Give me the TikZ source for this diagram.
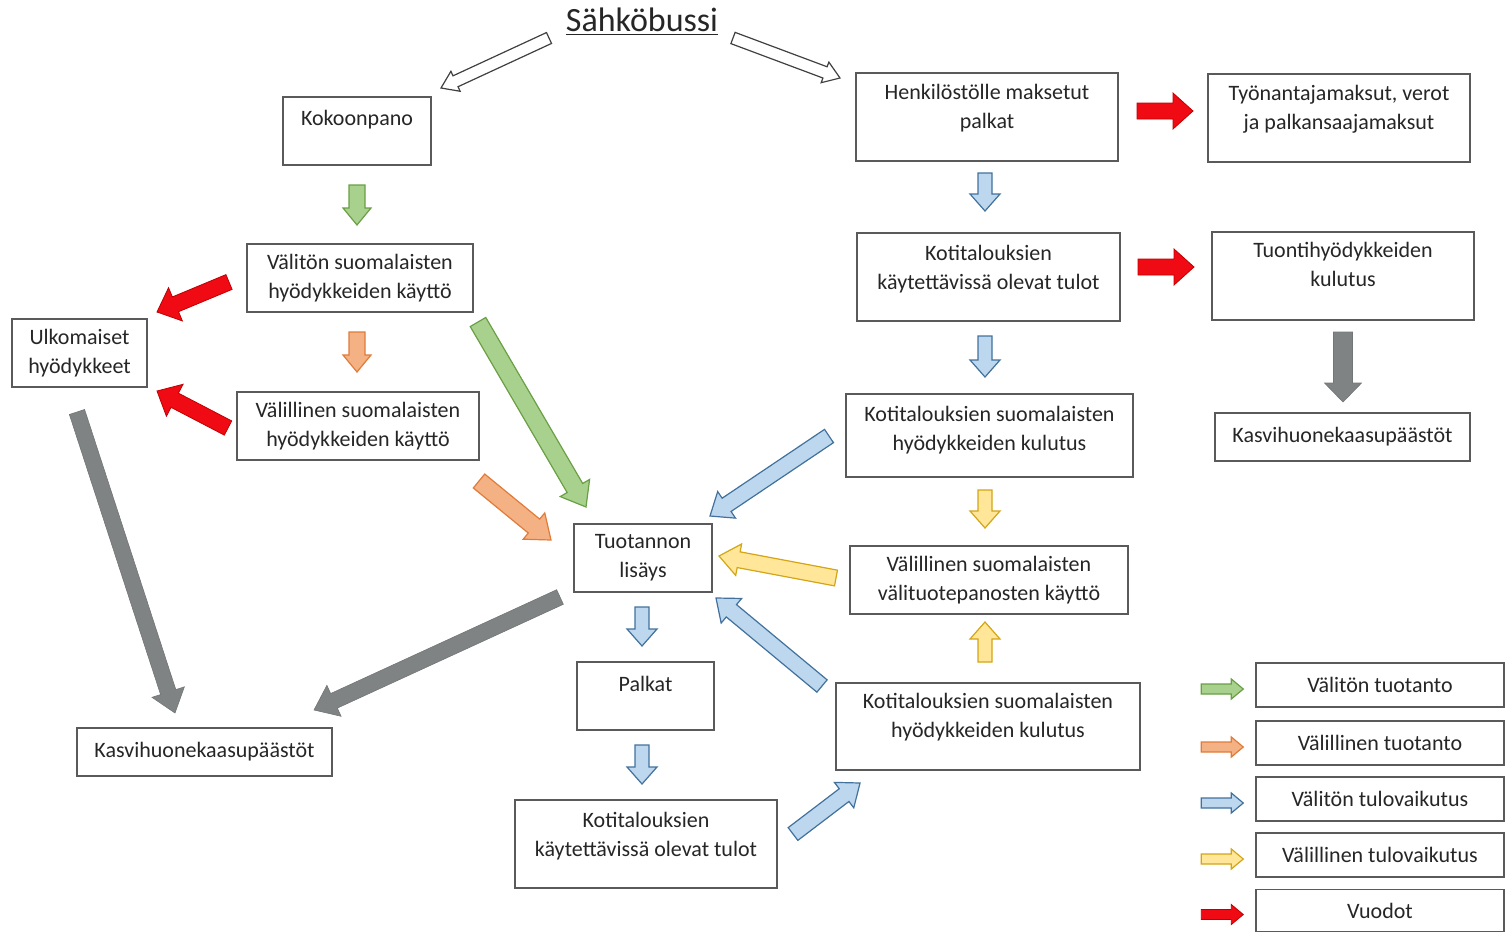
\documentclass[tikz,border=0pt]{standalone}
\usepackage{fontspec}
\setmainfont{Carlito}
\usetikzlibrary{calc}

\definecolor{boxgray}{HTML}{5A5A5A}
\definecolor{txtgray}{HTML}{262626}
\definecolor{grfill}{HTML}{A9D18E}
\definecolor{grdraw}{HTML}{6A9F45}
\definecolor{orfill}{HTML}{F4B183}
\definecolor{ordraw}{HTML}{E07B3A}
\definecolor{blfill}{HTML}{BDD7EE}
\definecolor{bldraw}{HTML}{41719C}
\definecolor{yefill}{HTML}{FFE699}
\definecolor{yedraw}{HTML}{D4A514}
\definecolor{refill}{HTML}{F00A14}
\definecolor{redraw}{HTML}{C00000}
\definecolor{kafill}{HTML}{7F8383}

% block arrow: style, from, to, shaft half width, head half width, head length
\newcommand\barrow[6]{%
  \coordinate (ba-c) at ($(#3)!#6!(#2)$);
  \draw[#1] ($(#2)!#4!90:(#3)$) -- ($(ba-c)!#4!90:(#3)$) -- ($(ba-c)!#5!90:(#3)$)
    -- (#3) -- ($(ba-c)!#5!-90:(#3)$) -- ($(ba-c)!#4!-90:(#3)$) -- ($(#2)!#4!-90:(#3)$) -- cycle;
}
% extra empty line, pushes the text up in its box
\newcommand\pad[1]{\\[#1]\mbox{}}

\tikzset{
  box/.style={draw=boxgray, line width=0.7pt, fill=white, align=center, inner sep=0pt,
    text=txtgray, font=\fontsize{11}{14.5}\selectfont},
  whitearr/.style={fill=white, draw=black!75, line width=0.6pt, line join=miter},
  greenarr/.style={fill=grfill, draw=grdraw, line width=0.6pt},
  orangearr/.style={fill=orfill, draw=ordraw, line width=0.6pt},
  bluearr/.style={fill=blfill, draw=bldraw, line width=0.6pt},
  yellowarr/.style={fill=yefill, draw=yedraw, line width=0.6pt},
  redarr/.style={fill=refill, draw=redraw, line width=0.4pt},
  greyarr/.style={fill=kafill, draw=kafill!90!black, line width=0.3pt},
}

\begin{document}
\begin{tikzpicture}[x=0.5pt, y=-0.5pt]
  \useasboundingbox (0,0) rectangle (1510,932);

  % Title
  \node[font=\fontsize{17}{20}\selectfont, text=txtgray] (bus) at (642,22) {\underline{Sähköbussi}};

  % Left column
  \node[box, minimum width=74pt, minimum height=34pt] (kok) at (357,131) {Kokoonpano\pad{-1pt}};
  \node[box, minimum width=113pt, minimum height=34pt] (vsuom) at (360,278) {Välitön suomalaisten\\hyödykkeiden käyttö};
  \node[box, minimum width=67.5pt, minimum height=34pt] (ulko) at (79.5,353) {Ulkomaiset\\hyödykkeet};
  \node[box, minimum width=121pt, minimum height=34pt] (vlsuom) at (358,426) {Välillinen suomalaisten\\hyödykkeiden käyttö};
  \node[box, minimum width=127.5pt, minimum height=24pt] (kasvi1) at (204.5,752) {Kasvihuonekaasupäästöt};

  % Middle column
  \node[box, minimum width=69pt, minimum height=34pt] (tuot) at (643,558) {Tuotannon\\lisäys};
  \node[box, minimum width=68.5pt, minimum height=34pt] (palkat) at (645.5,696) {Palkat\pad{-2pt}};
  \node[box, minimum width=131pt, minimum height=44pt] (tulot2) at (646,844) {Kotitalouksien\\käytettävissä olevat tulot\pad{-5pt}};

  % Right column
  \node[box, minimum width=131pt, minimum height=44pt] (henk) at (987,117) {Henkilöstölle maksetut\\palkat\pad{-4pt}};
  \node[box, minimum width=131.5pt, minimum height=44pt] (tulot1) at (988.5,277) {Kotitalouksien\\käytettävissä olevat tulot\pad{-5pt}};
  \node[box, minimum width=143.5pt, minimum height=41.5pt] (kulut1) at (989.5,435.5) {Kotitalouksien suomalaisten\\hyödykkeiden kulutus\pad{-7pt}};
  \node[box, minimum width=139pt, minimum height=34pt] (vlvali) at (989,580) {Välillinen suomalaisten\\välituotepanosten käyttö};
  \node[box, minimum width=152pt, minimum height=43.5pt] (kulut2) at (988,726.5) {Kotitalouksien suomalaisten\\hyödykkeiden kulutus\pad{-3pt}};

  % Far right
  \node[box, minimum width=131pt, minimum height=44pt] (tyon) at (1339,118) {Työnantajamaksut, verot\\ja palkansaajamaksut\pad{-4pt}};
  \node[box, minimum width=131pt, minimum height=44pt] (tuonti) at (1343,276) {Tuontihyödykkeiden\\kulutus\pad{-3pt}};
  \node[box, minimum width=127.5pt, minimum height=24pt] (kasvi2) at (1342.5,437) {Kasvihuonekaasupäästöt};

  % Legend
  \node[box, minimum width=124pt, minimum height=22pt] (leg1) at (1380,685) {Välitön tuotanto};
  \node[box, minimum width=124pt, minimum height=22pt] (leg2) at (1380,743) {Välillinen tuotanto};
  \node[box, minimum width=124pt, minimum height=22pt] (leg3) at (1380,799) {Välitön tulovaikutus};
  \node[box, minimum width=124pt, minimum height=22pt] (leg4) at (1380,855) {Välillinen tulovaikutus};
  \node[box, minimum width=124pt, minimum height=21pt] (leg5) at (1380,910.5) {Vuodot};

  % Arrow ends
  \coordinate (t1s) at (549,38);   \coordinate (t1e) at (441,88);
  \coordinate (t2s) at (733,38);   \coordinate (t2e) at (840,78);
  \coordinate (g1s) at (357,185);  \coordinate (g1e) at (357,225);
  \coordinate (g2s) at (478,322);  \coordinate (g2e) at (586,507);
  \coordinate (o1s) at (357,332);  \coordinate (o1e) at (357,372);
  \coordinate (o2s) at (479,481);  \coordinate (o2e) at (551,540);
  \coordinate (r1s) at (229,282);  \coordinate (r1e) at (157,312);
  \coordinate (r2s) at (228,428);  \coordinate (r2e) at (157,391);
  \coordinate (r3s) at (1137,111); \coordinate (r3e) at (1193,111);
  \coordinate (r4s) at (1138,267); \coordinate (r4e) at (1194,267);
  \coordinate (k1s) at (77,412);   \coordinate (k1e) at (175,713);
  \coordinate (k2s) at (560,597);  \coordinate (k2e) at (314,710);
  \coordinate (k3s) at (1343,332); \coordinate (k3e) at (1343,402);
  \coordinate (b1s) at (985,173);  \coordinate (b1e) at (985,211);
  \coordinate (b2s) at (985,336);  \coordinate (b2e) at (985,377);
  \coordinate (b3s) at (829,436);  \coordinate (b3e) at (710,516);
  \coordinate (b4s) at (822,686);  \coordinate (b4e) at (716,598);
  \coordinate (b5s) at (642,607);  \coordinate (b5e) at (642,646);
  \coordinate (b6s) at (642,745);  \coordinate (b6e) at (642,784);
  \coordinate (b7s) at (793,834);  \coordinate (b7e) at (860,783);
  \coordinate (y1s) at (985,490);  \coordinate (y1e) at (985,528);
  \coordinate (y2s) at (985,662);  \coordinate (y2e) at (985,622);
  \coordinate (y3s) at (836,578);  \coordinate (y3e) at (719,556);

  % From the bus
  \barrow{whitearr}{t1s}{t1e}{3pt}{5.5pt}{8pt}
  \barrow{whitearr}{t2s}{t2e}{3pt}{5.5pt}{8pt}
  % Production
  \barrow{greenarr}{g1s}{g1e}{4pt}{7pt}{8.5pt}
  \barrow{greenarr}{g2s}{g2e}{4.5pt}{8.5pt}{11pt}
  \barrow{orangearr}{o1s}{o1e}{4pt}{7pt}{8.5pt}
  \barrow{orangearr}{o2s}{o2e}{4.5pt}{8.5pt}{11pt}
  % Leaks
  \barrow{redarr}{r1s}{r1e}{4pt}{9pt}{10pt}
  \barrow{redarr}{r2s}{r2e}{4pt}{9pt}{10pt}
  \barrow{redarr}{r3s}{r3e}{4pt}{9pt}{10pt}
  \barrow{redarr}{r4s}{r4e}{4pt}{9pt}{10pt}
  % Emissions
  \barrow{greyarr}{k1s}{k1e}{4pt}{8.5pt}{11pt}
  \barrow{greyarr}{k2s}{k2e}{4pt}{8.5pt}{11pt}
  \barrow{greyarr}{k3s}{k3e}{4.75pt}{9.25pt}{9.5pt}
  % Income
  \barrow{bluearr}{b1s}{b1e}{3.5pt}{7.5pt}{8.5pt}
  \barrow{bluearr}{b2s}{b2e}{3.5pt}{7.5pt}{8.5pt}
  \barrow{bluearr}{b3s}{b3e}{4pt}{8pt}{10pt}
  \barrow{bluearr}{b4s}{b4e}{4pt}{8pt}{10pt}
  \barrow{bluearr}{b5s}{b5e}{3.5pt}{7.5pt}{8.5pt}
  \barrow{bluearr}{b6s}{b6e}{3.5pt}{7.5pt}{8.5pt}
  \barrow{bluearr}{b7s}{b7e}{4pt}{8pt}{10pt}
  \barrow{yellowarr}{y1s}{y1e}{3.5pt}{7.5pt}{8.5pt}
  \barrow{yellowarr}{y2s}{y2e}{3.5pt}{7.5pt}{8.5pt}
  \barrow{yellowarr}{y3s}{y3e}{4pt}{8pt}{10pt}

  % Legend arrows
  \foreach \st/\nm in {greenarr/leg1, orangearr/leg2, bluearr/leg3, yellowarr/leg4, redarr/leg5} {
    \coordinate (\nm e) at ([xshift=-6pt,yshift=-2pt]\nm.west);
    \coordinate (\nm s) at ([xshift=-27pt,yshift=-2pt]\nm.west);
    \barrow{\st}{\nm s}{\nm e}{2.5pt}{5pt}{6pt}
  }
\end{tikzpicture}
\end{document}
